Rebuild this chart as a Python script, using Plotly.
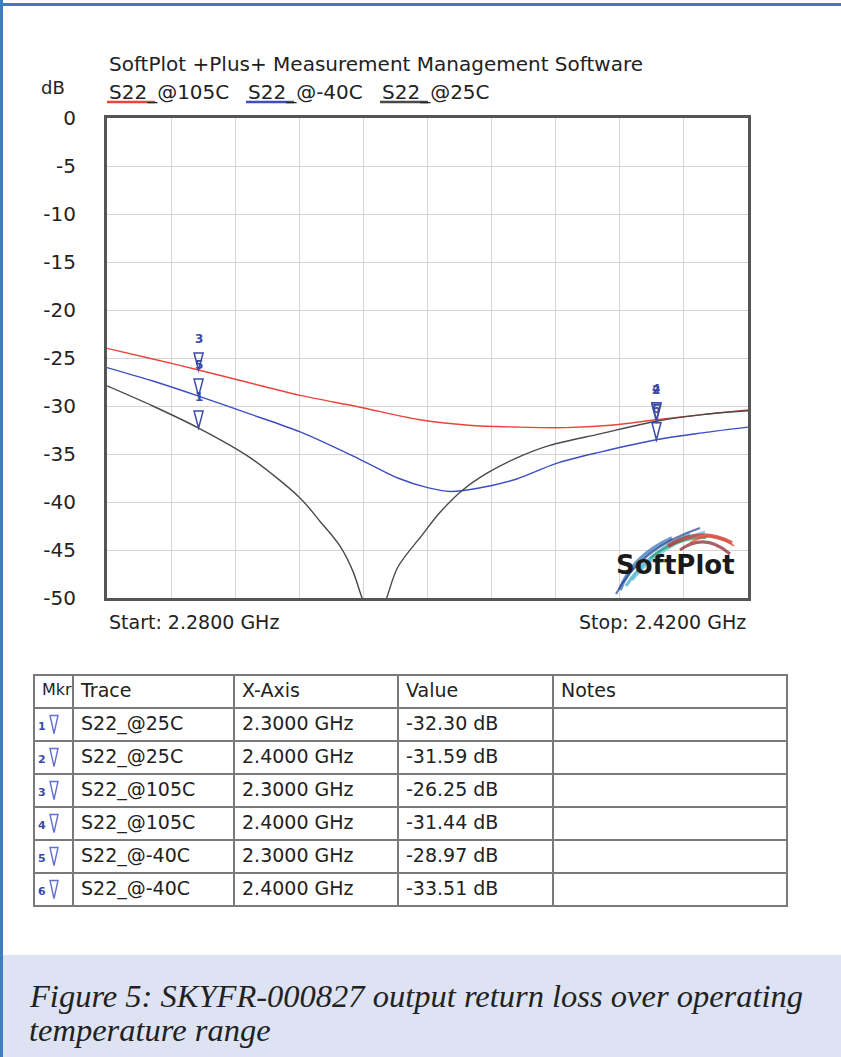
import plotly.graph_objects as go

# ---------------- data ----------------
freq_105 = [2.28, 2.29, 2.30, 2.31, 2.3222, 2.335, 2.348, 2.359, 2.37, 2.38, 2.39, 2.40, 2.41, 2.42]
s22_105 = [-24.0, -25.1, -26.25, -27.45, -28.9, -30.1, -31.4, -32.0, -32.2, -32.25, -32.0, -31.44, -30.9, -30.4]

freq_m40 = [2.28, 2.29, 2.30, 2.311, 2.3222, 2.335, 2.3435, 2.350, 2.355, 2.3607, 2.3695, 2.378, 2.3877, 2.40, 2.41, 2.42]
s22_m40 = [-26.0, -27.4, -28.97, -30.8, -32.7, -35.5, -37.5, -38.5, -38.9, -38.6, -37.6, -36.0, -34.8, -33.51, -32.8, -32.2]

freq_25 = [2.28, 2.29, 2.30, 2.311, 2.3222, 2.3265, 2.3309, 2.3337, 2.3357, 2.3382, 2.3407, 2.3435,
           2.3489, 2.3527, 2.3577, 2.363, 2.3695, 2.3767, 2.3877, 2.40, 2.41, 2.42]
s22_25 = [-27.9, -30.0, -32.30, -35.3, -39.6, -42.0, -44.6, -47.2, -50.0, -53.0, -50.5, -46.8,
          -43.4, -41.1, -38.75, -37.0, -35.4, -34.1, -32.9, -31.59, -30.9, -30.5]

trace_names = ["S22_@105C", "S22_@-40C", "S22_@25C"]
trace_colors = ["#e8463c", "#3c4ec2", "#4a4a4a"]

mkr_ids = [1, 2, 3, 4, 5, 6]
mkr_trace = ["S22_@25C", "S22_@25C", "S22_@105C", "S22_@105C", "S22_@-40C", "S22_@-40C"]
mkr_freq = [2.30, 2.40, 2.30, 2.40, 2.30, 2.40]
mkr_val = [-32.30, -31.59, -26.25, -31.44, -28.97, -33.51]

table_headers = ["Mkr", "Trace", "X-Axis", "Value", "Notes"]

y_ticks = [0, -5, -10, -15, -20, -25, -30, -35, -40, -45, -50]

# ---------------- helpers ----------------
W, H = 841, 1057
def px(x):
    return x / W
def py(y):
    return 1 - y / H

SANS = "DejaVu Sans"
TXT = "#222222"
MK = "#3c4aa8"

fig = go.Figure()

series = [(freq_105, s22_105), (freq_m40, s22_m40), (freq_25, s22_25)]
for (fx, fy), name, col in zip(series, trace_names, trace_colors):
    fig.add_trace(go.Scatter(x=fx, y=fy, mode="lines", name=name,
                             line=dict(color=col, width=1.4, shape="spline", smoothing=0.9),
                             showlegend=False, hoverinfo="skip"))

# markers (triangle outline, tip at the point) + numbers
shapes = []
annotations = []
for n, f, v in zip(mkr_ids, mkr_freq, mkr_val):
    shapes.append(dict(type="path", xref="x", yref="y", xsizemode="pixel", ysizemode="pixel",
                       xanchor=f, yanchor=v, path="M -4.5,17 L 4.5,17 L 0,0 Z",
                       line=dict(color=MK, width=1.5), fillcolor="rgba(0,0,0,0)"))
    annotations.append(dict(x=f, y=v, xref="x", yref="y", text=f"<b>{n}</b>", showarrow=False,
                            yshift=31, font=dict(family=SANS, size=12, color=MK)))

# table
cell_x = [f"{f:.4f} GHz" for f in mkr_freq]
cell_v = [f"{v:.2f} dB" for v in mkr_val]
cell_blank = ["" for _ in mkr_ids]
TBL_TOP = 675
ROW_H = 33
fig.add_trace(go.Table(
    domain=dict(x=[px(34), px(787)], y=[0.115, py(TBL_TOP)]),
    columnwidth=[39, 161, 164, 155, 234],
    header=dict(values=table_headers, align="left", height=ROW_H,
                fill=dict(color="white"), line=dict(color="#7a7a7a", width=1.5),
                font=dict(family=SANS, size=[16, 19, 19, 19, 19], color=TXT)),
    cells=dict(values=[cell_blank, mkr_trace, cell_x, cell_v, cell_blank], align="left", height=ROW_H,
               fill=dict(color="white"), line=dict(color="#7a7a7a", width=1.5),
               font=dict(family=SANS, size=19, color=TXT)),
))
# marker icons in the Mkr column
for i, n in enumerate(mkr_ids):
    yc = TBL_TOP + ROW_H * (i + 1) + ROW_H / 2
    annotations.append(dict(x=px(42), y=py(yc + 2), xref="paper", yref="paper", text=f"<b>{n}</b>",
                            showarrow=False, xanchor="center", yanchor="middle",
                            font=dict(family=SANS, size=11, color=MK)))
    shapes.append(dict(type="path", xref="paper", yref="paper", xsizemode="pixel", ysizemode="pixel",
                       xanchor=px(54), yanchor=py(yc), path="M -4,9 L 4,9 L 0,-9 Z",
                       line=dict(color="#6270d4", width=1.4), fillcolor="rgba(0,0,0,0)"))

# page decorations
shapes += [
    dict(type="rect", xref="paper", yref="paper", x0=0, x1=1, y0=0, y1=py(955),
         fillcolor="#dde3f2", line=dict(width=0), layer="below"),
    dict(type="rect", xref="paper", yref="paper", x0=0, x1=px(3), y0=0, y1=1,
         fillcolor="#3f7cc4", line=dict(width=0), layer="below"),
    dict(type="rect", xref="paper", yref="paper", x0=0, x1=1, y0=py(6), y1=py(3),
         fillcolor="#3f7cc4", line=dict(width=0), layer="below"),
]

# legend labels with coloured underline
leg_x = [107, 246, 380]
for xx, name, col in zip(leg_x, trace_names, trace_colors):
    annotations.append(dict(x=px(xx), y=py(92), xref="paper", yref="paper", text=name,
                            xanchor="left", yanchor="middle", showarrow=False,
                            font=dict(family=SANS, size=20, color=TXT)))
    shapes.append(dict(type="line", xref="paper", yref="paper", x0=px(xx), x1=px(xx + 48),
                       y0=py(102), y1=py(102), line=dict(color=col, width=2.5)))

annotations += [
    dict(x=px(107), y=py(64), xref="paper", yref="paper", xanchor="left", yanchor="middle",
         text="SoftPlot +Plus+ Measurement Management Software", showarrow=False,
         font=dict(family=SANS, size=20, color=TXT)),
    dict(x=px(39), y=py(88), xref="paper", yref="paper", xanchor="left", yanchor="middle",
         text="dB", showarrow=False, font=dict(family=SANS, size=18, color=TXT)),
    dict(x=px(107), y=py(622), xref="paper", yref="paper", xanchor="left", yanchor="middle",
         text="Start: 2.2800 GHz", showarrow=False, font=dict(family=SANS, size=19, color=TXT)),
    dict(x=px(748), y=py(622), xref="paper", yref="paper", xanchor="right", yanchor="middle",
         text="Stop: 2.4200 GHz", showarrow=False, font=dict(family=SANS, size=19, color=TXT)),
    dict(x=px(27), y=py(996), xref="paper", yref="paper", xanchor="left", yanchor="middle",
         text="<i>Figure 5: SKYFR-000827 output return loss over operating</i>", showarrow=False,
         font=dict(family="Liberation Serif", size=32.5, color="#222222")),
    dict(x=px(27), y=py(1030), xref="paper", yref="paper", xanchor="left", yanchor="middle",
         text="<i>temperature range</i>", showarrow=False,
         font=dict(family="Liberation Serif", size=32.5, color="#222222")),
]

# SoftPlot logo (feather strokes + bold word)
feather = [
    ("#2d6fb8", 4, (620, 590, 632, 556, 672, 538)),
    ("#31a7c8", 3, (626, 586, 648, 552, 690, 534)),
    ("#1f3f8f", 2, (616, 594, 640, 548, 700, 528)),
    ("#5bc0d8", 3, (632, 580, 660, 545, 705, 532)),
    ("#2aa05a", 2, (650, 558, 675, 538, 706, 538)),
    ("#c8282a", 4, (668, 546, 700, 526, 732, 543)),
    ("#8a1c2a", 3, (680, 550, 705, 532, 730, 554)),
    ("#e05030", 2, (690, 543, 712, 528, 734, 546)),
]
for col, wd, (a, b, c, d, e, f) in feather:
    shapes.append(dict(type="path", xref="paper", yref="paper",
                       path=f"M {px(a)},{py(b)} Q {px(c)},{py(d)} {px(e)},{py(f)}",
                       line=dict(color=col, width=wd), opacity=0.7))
annotations.append(dict(x=px(675), y=py(565), xref="paper", yref="paper", text="<b>SoftPlot</b>",
                        showarrow=False, xanchor="center", yanchor="middle",
                        font=dict(family=SANS, size=26, color="#1a1a1a")))

fig.update_layout(
    width=W, height=H,
    margin=dict(l=0, r=0, t=0, b=0),
    paper_bgcolor="white", plot_bgcolor="white",
    showlegend=False,
    shapes=shapes, annotations=annotations,
    xaxis=dict(domain=[px(107), px(748)], range=[2.28, 2.42], tick0=2.28, dtick=0.014,
               showticklabels=False, ticks="", showgrid=True, gridcolor="#d4d4d4", gridwidth=1,
               zeroline=False, showline=True, linecolor="#555555", linewidth=3, mirror=True,
               automargin=False, fixedrange=True),
    yaxis=dict(domain=[py(598), py(118)], range=[-50, 0], tickvals=y_ticks,
               ticktext=[str(t) for t in y_ticks], ticks="", ticklabelstandoff=24,
               tickfont=dict(family=SANS, size=20, color=TXT),
               showgrid=True, gridcolor="#d4d4d4", gridwidth=1, zeroline=False,
               showline=True, linecolor="#555555", linewidth=3, mirror=True,
               automargin=False, fixedrange=True),
)

fig.write_html("out.html", config={"displayModeBar": False},
               post_script="document.body.style.margin='0';document.body.style.overflow='hidden';")
